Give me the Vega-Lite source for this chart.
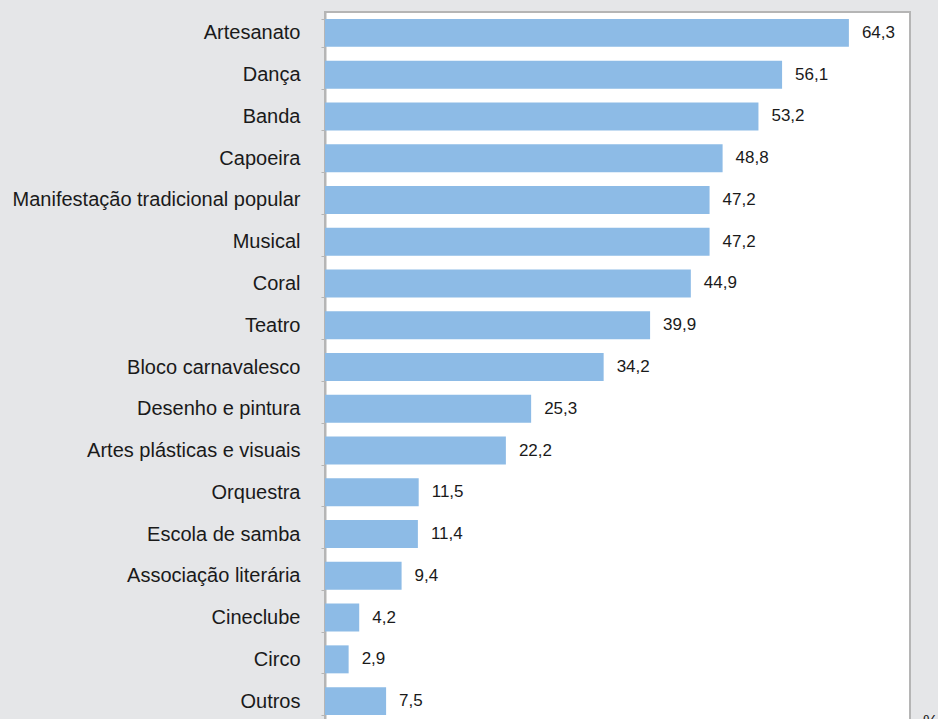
{
  "$schema": "https://vega.github.io/schema/vega-lite/v6.json",
  "autosize": {"type": "none"},
  "width": 585,
  "height": 710,
  "padding": {"left": 325, "top": 12, "right": 28, "bottom": 10},
  "background": "#e5e6e8",
  "config": {
    "locale": {"number": {"decimal": ",", "thousands": ".", "grouping": [3], "currency": ["R$", ""]}},
    "view": {"fill": "white", "stroke": "#b5b5b5", "strokeWidth": 2},
    "font": "Liberation Sans"
  },
  "data": {"values": [
    {"categoria": "Artesanato", "valor": 64.3},
    {"categoria": "Dança", "valor": 56.1},
    {"categoria": "Banda", "valor": 53.2},
    {"categoria": "Capoeira", "valor": 48.8},
    {"categoria": "Manifestação tradicional popular", "valor": 47.2},
    {"categoria": "Musical", "valor": 47.2},
    {"categoria": "Coral", "valor": 44.9},
    {"categoria": "Teatro", "valor": 39.9},
    {"categoria": "Bloco carnavalesco", "valor": 34.2},
    {"categoria": "Desenho e pintura", "valor": 25.3},
    {"categoria": "Artes plásticas e visuais", "valor": 22.2},
    {"categoria": "Orquestra", "valor": 11.5},
    {"categoria": "Escola de samba", "valor": 11.4},
    {"categoria": "Associação literária", "valor": 9.4},
    {"categoria": "Cineclube", "valor": 4.2},
    {"categoria": "Circo", "valor": 2.9},
    {"categoria": "Outros", "valor": 7.5}
  ]},
  "encoding": {
    "y": {
      "field": "categoria", "type": "nominal", "sort": null,
      "scale": {"paddingInner": 0.33, "paddingOuter": 0.165},
      "axis": {
        "title": null, "tickBand": "extent", "tickSize": 4, "tickColor": "#b5b5b5",
        "domainColor": "#b5b5b5", "domainWidth": 2, "labelFontSize": 20, "labelColor": "#1a1a1a",
        "labelPadding": 21, "labelLimit": 400
      }
    },
    "x": {
      "field": "valor", "type": "quantitative",
      "scale": {"domain": [0, 71.8], "nice": false},
      "axis": null
    }
  },
  "layer": [
    {"mark": {"type": "bar", "color": "#8dbbe6"}},
    {
      "mark": {"type": "text", "align": "left", "dx": 13, "fontSize": 17, "color": "#1a1a1a"},
      "encoding": {"text": {"field": "valor", "type": "quantitative", "format": ".1f"}}
    },
    {
      "data": {"values": [{"rotulo": "%", "categoria": "Outros", "valor": 71.8}]},
      "mark": {"type": "text", "align": "left", "baseline": "alphabetic", "dx": 13, "dy": 26, "fontSize": 17, "color": "#1a1a1a"},
      "encoding": {"text": {"field": "rotulo"}}
    }
  ]
}
